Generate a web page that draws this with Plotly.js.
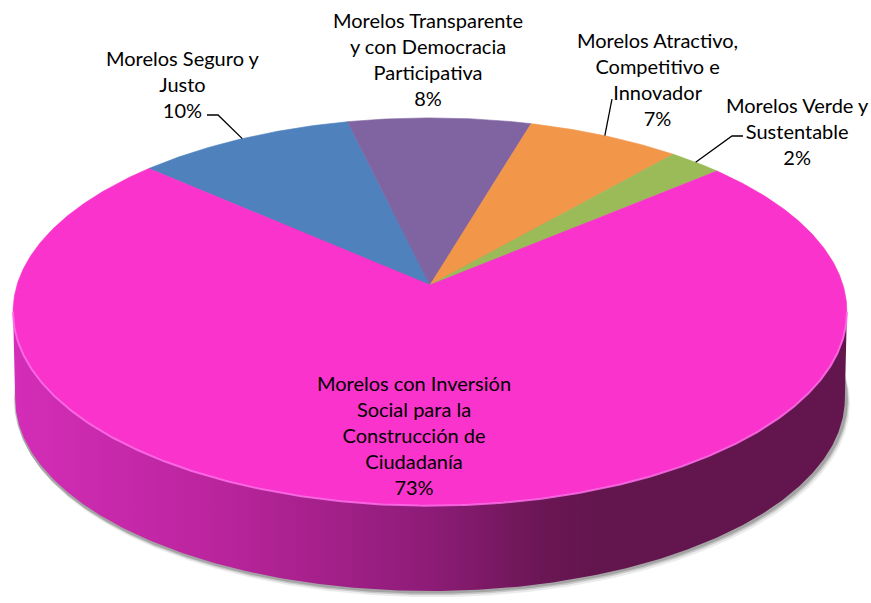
<!DOCTYPE html>
<html>
<head>
<meta charset="utf-8">
<script src="https://cdn.plot.ly/plotly-3.0.1.min.js"></script>
<style>html,body{margin:0;padding:0;background:#fff;}#chart{width:871px;height:603px;}</style>
</head>
<body>
<div id="chart"></div>
<script>
// ---- data (clockwise order, starting with "Seguro y Justo") ----
const categories = [
  "Morelos Seguro y Justo",
  "Morelos Transparente y con Democracia Participativa",
  "Morelos Atractivo, Competitivo e Innovador",
  "Morelos Verde y Sustentable",
  "Morelos con Inversión Social para la Construcción de Ciudadanía"
];
const values = [9.7, 8.1, 6.8, 2.4, 73.0];
const labelTexts = [
  "Morelos Seguro y<br>Justo",
  "Morelos Transparente<br>y con Democracia<br>Participativa",
  "Morelos Atractivo,<br>Competitivo e<br>Innovador",
  "Morelos Verde y<br>Sustentable",
  "Morelos con Inversión<br>Social para la<br>Construcción de<br>Ciudadanía"
];
const colors = ["#4F81BD", "#8064A2", "#F2964A", "#9BBB59", "#F933CB"];

// ---- geometry of the 3D pie (layout) ----
const G = {cx: 430, cy: 285, A: 413, B: 190, k: 0.137, depth: 87, startDeg: -48};
const labelPos = [
  {x: 183, y: 84}, {x: 428, y: 59}, {x: 657, y: 79}, {x: 797, y: 131}, {x: 414, y: 435}
];
const leaderFrom = [
  [[207, 115], [218, 115]], null, [[612, 99]], [[743, 136], [732, 136]], null
];

function proj(deg, dz, s) {
  const t = deg * Math.PI / 180;
  const u = Math.sin(t), v = -Math.cos(t);
  const den = 1 - G.k * v;
  s = s || 1;
  return [G.cx + s * G.A * u / den, G.cy + s * G.B * v / den + (dz || 0)];
}
function arc(a0, a1, dz, s) {
  const pts = [];
  const n = Math.max(2, Math.ceil(Math.abs(a1 - a0) / 0.5));
  for (let i = 0; i <= n; i++) pts.push(proj(a0 + (a1 - a0) * i / n, dz, s));
  return pts;
}

const total = values.reduce((a, b) => a + b, 0);
const slices = [];
let acc = G.startDeg;
values.forEach((v, i) => {
  const span = v / total * 360;
  slices.push({a0: acc, a1: acc + span, mid: acc + span / 2});
  acc += span;
});

const traces = [];
// shadow
[[5, 0.08], [3, 0.14], [1.5, 0.18]].forEach(([off, op]) => {
  const pts = arc(0, 360, G.depth + off, 1).map(p => [p[0] + off * 0.6, p[1]]);
  const fr = arc(97, 263, off * 0.6, 1).map(p => [p[0] + off * 0.6, p[1]]);
  traces.push({type: 'scatter', mode: 'lines', x: pts.map(p => p[0]), y: pts.map(p => p[1]),
    fill: 'toself', fillcolor: 'rgba(0,0,0,' + op + ')', line: {width: 0}, hoverinfo: 'skip'});
});

// side walls (front arc only)
const frontLo = Math.acos(-G.k) * 180 / Math.PI;   // right extreme
const frontHi = 360 - frontLo;                     // left extreme
const sideScales = [
  [[0, '#2F4D72'], [1, '#1E324A']],
  [[0, '#4C3C62'], [1, '#33283F']],
  [[0, '#B0642B'], [1, '#7A451D']],
  [[0, '#6B823C'], [1, '#48582A']],
  [[0, '#D42DB8'], [0.26, '#B8249B'], [0.5, '#8D1C77'], [0.64, '#6A1653'], [0.7, '#63154D'], [1, '#63154D']]
];
slices.forEach((sl, i) => {
  let a0 = sl.a0, a1 = sl.a1;
  // normalize into [0,360)
  while (a0 < 0) { a0 += 360; a1 += 360; }
  const lo = Math.max(a0, frontLo), hi = Math.min(a1, frontHi);
  if (hi <= lo) return;
  const top = arc(lo, hi, 0, 1);
  const bot = arc(hi, lo, G.depth, 0.995);
  const pts = top.concat(bot);
  traces.push({type: 'scatter', mode: 'lines', x: pts.map(p => p[0]), y: pts.map(p => p[1]),
    fill: 'toself', line: {width: 0},
    fillgradient: {type: 'horizontal', colorscale: sideScales[i], start: G.cx - G.A * 1.008, stop: G.cx + G.A * 1.008},
    hoverinfo: 'skip'});
});

// top face slices
slices.forEach((sl, i) => {
  const pts = [[G.cx, G.cy]].concat(arc(sl.a0, sl.a1, 0, 1)).concat([[G.cx, G.cy]]);
  traces.push({type: 'scatter', mode: 'lines', x: pts.map(p => p[0]), y: pts.map(p => p[1]),
    fill: 'toself', fillcolor: colors[i], line: {width: 0.6, color: colors[i]},
    name: categories[i], hoverinfo: 'skip'});
});

// bevel highlight along front edge
const hl = arc(frontLo, frontHi, 0.5, 1);
traces.push({type: 'scatter', mode: 'lines', x: hl.map(p => p[0]), y: hl.map(p => p[1]),
  line: {width: 2, color: 'rgba(255,110,235,0.85)'}, hoverinfo: 'skip'});

// leader lines
slices.forEach((sl, i) => {
  if (!leaderFrom[i]) return;
  const pts = leaderFrom[i].concat([proj(sl.mid, 0, 1)]);
  traces.push({type: 'scatter', mode: 'lines', x: pts.map(p => p[0]), y: pts.map(p => p[1]),
    line: {width: 1.3, color: '#000'}, hoverinfo: 'skip'});
});

const annotations = slices.map((sl, i) => ({
  x: labelPos[i].x, y: labelPos[i].y, xref: 'x', yref: 'y',
  text: labelTexts[i] + '<br>' + Math.round(values[i]) + '%',
  showarrow: false, xanchor: 'center', yanchor: 'middle', align: 'center',
  font: {family: 'Lato, Carlito, sans-serif', size: 20, color: '#000'}
}));

const layout = {
  width: 871, height: 603,
  margin: {l: 0, r: 0, t: 0, b: 0},
  paper_bgcolor: '#fff', plot_bgcolor: '#fff',
  showlegend: false, hovermode: false,
  xaxis: {range: [0, 871], visible: false, fixedrange: true},
  yaxis: {range: [603, 0], visible: false, fixedrange: true},
  annotations: annotations
};
Plotly.newPlot('chart', traces, layout, {staticPlot: true, displayModeBar: false});
</script>
</body>
</html>
